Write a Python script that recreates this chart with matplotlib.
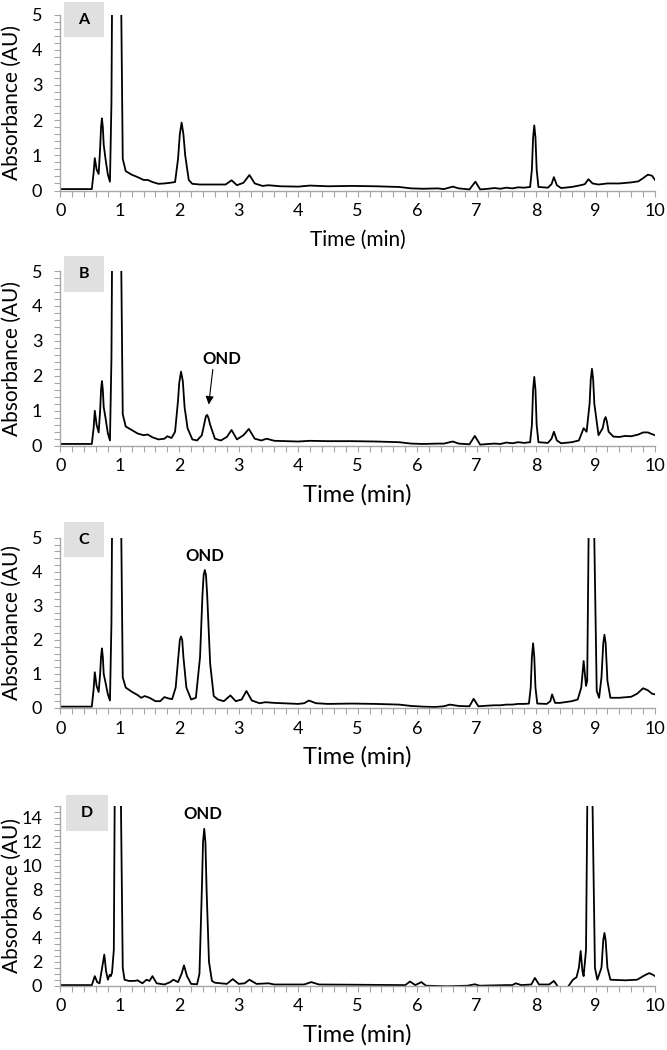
import matplotlib
matplotlib.use("Agg")
import matplotlib.pyplot as plt
from matplotlib.patches import Rectangle
from matplotlib.ticker import MultipleLocator

plt.rcParams['font.family'] = ['Lato', 'DejaVu Sans']

# chromatogram traces (time in min, absorbance in AU)
time_a = [0, 0.53, 0.56, 0.58, 0.61, 0.645, 0.67, 0.685, 0.70, 0.715, 0.73, 0.76, 0.80, 0.835, 0.86, 0.88,
          0.95, 1.02, 1.05, 1.10, 1.2, 1.3, 1.4, 1.47, 1.55, 1.65, 1.75, 1.85, 1.93, 1.98, 2.01, 2.04,
          2.07, 2.10, 2.16, 2.22, 2.35, 2.5, 2.65, 2.78, 2.88, 2.97, 3.08, 3.18, 3.27, 3.4, 3.5, 3.7,
          4.0, 4.2, 4.5, 4.9, 5.3, 5.7, 5.9, 6.1, 6.35, 6.45, 6.6, 6.7, 6.88, 6.98, 7.06, 7.2, 7.3,
          7.4, 7.5, 7.6, 7.7, 7.8, 7.9, 7.93, 7.95, 7.97, 7.99, 8.01, 8.04, 8.2, 8.26, 8.3, 8.35, 8.42,
          8.6, 8.75, 8.82, 8.88, 8.95, 9.05, 9.2, 9.4, 9.6, 9.72, 9.8, 9.88, 9.95, 10.0]
abs_a = [0.04, 0.04, 0.5, 0.92, 0.6, 0.47, 1.2, 1.8, 2.05, 1.8, 1.3, 0.9, 0.45, 0.25, 2.5, 8,
         25, 6, 0.9, 0.55, 0.45, 0.38, 0.3, 0.3, 0.24, 0.19, 0.2, 0.22, 0.24, 0.9, 1.6, 1.93,
         1.6, 1.0, 0.3, 0.19, 0.17, 0.17, 0.17, 0.17, 0.29, 0.15, 0.22, 0.44, 0.2, 0.13, 0.15, 0.12,
         0.11, 0.14, 0.12, 0.13, 0.12, 0.1, 0.06, 0.05, 0.06, 0.04, 0.11, 0.06, 0.03, 0.25, 0.03, 0.05, 0.07,
         0.05, 0.08, 0.06, 0.09, 0.08, 0.1, 0.6, 1.5, 1.85, 1.5, 0.6, 0.1, 0.08, 0.18, 0.38, 0.15, 0.07,
         0.1, 0.15, 0.18, 0.32, 0.2, 0.17, 0.2, 0.2, 0.23, 0.26, 0.35, 0.45, 0.42, 0.3]

time_b = [0, 0.53, 0.56, 0.58, 0.61, 0.645, 0.67, 0.685, 0.70, 0.715, 0.73, 0.76, 0.80, 0.835, 0.86, 0.88,
          0.95, 1.02, 1.05, 1.10, 1.2, 1.3, 1.4, 1.47, 1.55, 1.65, 1.75, 1.8, 1.87, 1.93, 1.98, 2.0,
          2.03, 2.06, 2.09, 2.14, 2.22, 2.3, 2.38, 2.43, 2.45, 2.47, 2.49, 2.52, 2.6, 2.7, 2.8, 2.88,
          2.97, 3.08, 3.17, 3.27, 3.38, 3.47, 3.6, 4.0, 4.2, 4.5, 4.9, 5.3, 5.7, 5.9, 6.1, 6.35,
          6.45, 6.6, 6.7, 6.88, 6.97, 7.06, 7.2, 7.3, 7.4, 7.5, 7.6, 7.7, 7.8, 7.9, 7.93, 7.95,
          7.97, 7.99, 8.01, 8.04, 8.2, 8.26, 8.3, 8.35, 8.42, 8.6, 8.72, 8.8, 8.85, 8.9, 8.92, 8.94,
          8.96, 8.98, 9.05, 9.12, 9.15, 9.17, 9.19, 9.22, 9.3, 9.4, 9.5, 9.6, 9.72, 9.8, 9.88, 9.95,
          10.0]
abs_b = [0.05, 0.05, 0.5, 1.0, 0.6, 0.38, 1.0, 1.6, 1.85, 1.6, 1.1, 0.8, 0.35, 0.15, 2.5, 8,
         25, 6, 0.9, 0.55, 0.45, 0.35, 0.3, 0.32, 0.24, 0.18, 0.2, 0.27, 0.22, 0.4, 1.3, 1.8,
         2.12, 1.85, 1.1, 0.5, 0.18, 0.15, 0.3, 0.7, 0.85, 0.88, 0.8, 0.6, 0.2, 0.15, 0.25, 0.45,
         0.18, 0.3, 0.48, 0.2, 0.15, 0.2, 0.14, 0.12, 0.14, 0.13, 0.13, 0.12, 0.1, 0.06, 0.05, 0.06,
         0.06, 0.12, 0.06, 0.04, 0.28, 0.03, 0.05, 0.06, 0.05, 0.09, 0.07, 0.1, 0.08, 0.1, 0.6, 1.6,
         1.97, 1.6, 0.6, 0.1, 0.08, 0.2, 0.4, 0.15, 0.07, 0.1, 0.15, 0.5, 0.4, 1.2, 1.9, 2.2,
         1.9, 1.2, 0.3, 0.5, 0.75, 0.82, 0.7, 0.4, 0.26, 0.25, 0.28, 0.27, 0.32, 0.38, 0.38, 0.33,
         0.3]

time_c = [0, 0.53, 0.56, 0.58, 0.61, 0.645, 0.67, 0.685, 0.70, 0.715, 0.73, 0.76, 0.80, 0.835, 0.86, 0.88,
          0.95, 1.02, 1.05, 1.10, 1.2, 1.3, 1.36, 1.42, 1.5, 1.6, 1.68, 1.75, 1.82, 1.88, 1.94, 1.99,
          2.01, 2.03, 2.05, 2.07, 2.12, 2.2, 2.28, 2.35, 2.39, 2.41, 2.43, 2.45, 2.47, 2.52, 2.58, 2.65,
          2.75, 2.86, 2.95, 3.05, 3.13, 3.22, 3.35, 3.45, 3.6, 4.0, 4.1, 4.18, 4.3, 4.5, 4.9, 5.3,
          5.7, 5.9, 6.1, 6.3, 6.45, 6.55, 6.7, 6.88, 6.95, 7.03, 7.2, 7.3, 7.4, 7.5, 7.6, 7.7,
          7.8, 7.88, 7.91, 7.93, 7.95, 7.97, 7.99, 8.02, 8.18, 8.24, 8.27, 8.32, 8.4, 8.6, 8.7, 8.76,
          8.8, 8.84, 8.86, 8.9, 8.93, 8.97, 9.02, 9.06, 9.1, 9.13, 9.15, 9.17, 9.2, 9.25, 9.4, 9.6,
          9.7, 9.8, 9.88, 9.95, 10.0]
abs_c = [0.04, 0.04, 0.55, 1.05, 0.65, 0.47, 1.0, 1.5, 1.75, 1.5, 1.0, 0.75, 0.4, 0.22, 2.5, 8,
         25, 6, 0.9, 0.6, 0.48, 0.38, 0.3, 0.35, 0.3, 0.2, 0.2, 0.32, 0.28, 0.26, 0.6, 1.6,
         2.0, 2.1, 2.0, 1.5, 0.6, 0.25, 0.3, 1.5, 3.3, 3.9, 4.05, 3.9, 3.3, 1.3, 0.35, 0.25,
         0.2, 0.37, 0.2, 0.25, 0.5, 0.22, 0.14, 0.17, 0.15, 0.12, 0.14, 0.22, 0.14, 0.12, 0.13, 0.12,
         0.1, 0.06, 0.04, 0.03, 0.05, 0.1, 0.06, 0.05, 0.27, 0.05, 0.07, 0.08, 0.08, 0.1, 0.1, 0.12,
         0.12, 0.13, 0.6, 1.5, 1.9, 1.5, 0.6, 0.13, 0.12, 0.2, 0.4, 0.15, 0.15, 0.2, 0.25, 0.6,
         1.38, 0.65, 0.8, 8, 25, 6, 0.5, 0.3, 0.9, 1.9, 2.15, 1.9, 0.8, 0.3, 0.3, 0.33,
         0.42, 0.58, 0.52, 0.42, 0.4]

time_d = [0, 0.53, 0.56, 0.58, 0.62, 0.66, 0.7, 0.74, 0.77, 0.8, 0.83, 0.85, 0.87, 0.9, 0.92, 0.97,
          1.02, 1.05, 1.08, 1.15, 1.25, 1.3, 1.38, 1.45, 1.5, 1.55, 1.62, 1.75, 1.85, 1.9, 1.98, 2.04,
          2.08, 2.13, 2.2, 2.3, 2.34, 2.38, 2.40, 2.42, 2.44, 2.46, 2.5, 2.55, 2.6, 2.7, 2.8, 2.9,
          3.0, 3.1, 3.18, 3.3, 3.5, 3.6, 4.0, 4.1, 4.22, 4.35, 5.0, 5.5, 5.8, 5.88, 5.97, 6.07,
          6.15, 6.5, 6.85, 6.97, 7.05, 7.5, 7.6, 7.66, 7.75, 7.92, 7.98, 8.05, 8.22, 8.3, 8.35, 8.4,
          8.5, 8.55, 8.62, 8.68, 8.72, 8.75, 8.78, 8.8, 8.84, 8.87, 8.91, 8.95, 8.99, 9.03, 9.1, 9.13,
          9.15, 9.17, 9.2, 9.25, 9.5, 9.7, 9.82, 9.9, 9.95, 10.0]
abs_d = [0.05, 0.05, 0.5, 0.8, 0.3, 0.2, 1.4, 2.6, 1.2, 0.5, 0.9, 0.8, 1.1, 3, 20, 40,
         15, 1.5, 0.5, 0.4, 0.4, 0.45, 0.2, 0.5, 0.4, 0.8, 0.2, 0.1, 0.3, 0.5, 0.3, 1.0,
         1.7, 0.8, 0.15, 0.12, 1.0, 8, 12, 13.1, 12, 8, 2.0, 0.4, 0.25, 0.2, 0.15, 0.55,
         0.15, 0.2, 0.5, 0.15, 0.2, 0.1, 0.1, 0.1, 0.3, 0.1, 0.08, 0.06, 0.05, 0.35, 0.05, 0.3,
         0.0, -0.05, 0.0, 0.12, 0.0, 0.05, 0.05, 0.2, 0.05, 0.1, 0.65, 0.1, 0.1, 0.4, 0.05, -0.5,
         -0.5, 0.0, 0.5, 0.7, 1.5, 2.9, 1.2, 0.8, 3, 20, 40, 15, 1.5, 0.5, 1.5, 3.8,
         4.4, 3.8, 1.5, 0.5, 0.45, 0.5, 0.85, 1.05, 0.95, 0.8]

panel_names = ['A', 'B', 'C', 'D']
times = [time_a, time_b, time_c, time_d]
absorb = [abs_a, abs_b, abs_c, abs_d]
y_max = [5, 5, 5, 15]
y_step = [1, 1, 1, 2]
y_minor = [0.2, 0.2, 0.2, 0.5]
ond_text = [None, (2.72, 2.48), (2.43, 4.46), (2.40, 14.3)]

W, H = 667, 1050
fig = plt.figure(figsize=(W / 100, H / 100), dpi=100)

# axes boxes in pixels: (top, bottom)
ax_px = [(14.5, 190.5), (271, 445.7), (537.7, 708), (806, 985.7)]
box_px = [(64, 2, 104, 37), (64, 256, 104, 292), (64, 522, 104, 557), (66, 795, 108, 831)]
xlab_size = [15, 17, 17, 17]
x0, x1 = 60.3, 655
grey = '#a6a6a6'

for i in range(4):
    top, bot = ax_px[i]
    ax = fig.add_axes([x0 / W, 1 - bot / H, (x1 - x0) / W, (bot - top) / H])
    ax.plot(times[i], absorb[i], color='black', lw=1.3)
    ax.set_xlim(0, 10)
    ax.set_ylim(0, y_max[i])
    ax.xaxis.set_major_locator(MultipleLocator(1))
    ax.xaxis.set_minor_locator(MultipleLocator(0.2))
    ax.yaxis.set_major_locator(MultipleLocator(y_step[i]))
    ax.yaxis.set_minor_locator(MultipleLocator(y_minor[i]))
    for s in ['top', 'right']:
        ax.spines[s].set_visible(False)
    for s in ['left', 'bottom']:
        ax.spines[s].set_color(grey)
        ax.spines[s].set_linewidth(1.0)
    ax.tick_params(axis='both', which='both', direction='out', color=grey, length=4, width=0.8,
                   labelsize=13)
    ax.tick_params(axis='x', which='both', pad=5)
    ax.tick_params(axis='y', which='both', pad=9)
    ax.set_xlabel('Time (min)', fontsize=xlab_size[i])
    ax.xaxis.label.set_va('center')
    ax.xaxis.set_label_coords(0.5, -49 / (bot - top))
    ax.set_ylabel('Absorbance (AU)', fontsize=15)
    ax.yaxis.label.set_va('center')
    ax.yaxis.set_label_coords((12 - x0) / (x1 - x0), 0.5)

    if ond_text[i] is not None:
        ax.text(ond_text[i][0], ond_text[i][1], 'OND', ha='center', va='center',
                fontsize=12, fontweight='bold')
    if i == 1:
        ax.annotate('', xy=(2.49, 1.1), xytext=(2.57, 2.26),
                    arrowprops=dict(arrowstyle='-|>', color='black', lw=0.8, mutation_scale=12))

    bx0, by0, bx1, by1 = box_px[i]
    fig.add_artist(Rectangle((bx0 / W, 1 - by1 / H), (bx1 - bx0) / W, (by1 - by0) / H,
                             transform=fig.transFigure, facecolor='#e0e0e0', edgecolor='none'))
    fig.text((bx0 + bx1) / 2 / W, 1 - (by0 + by1) / 2 / H, panel_names[i], ha='center', va='center',
             fontsize=11.5, fontweight='bold')

fig.savefig('out.png', dpi=100)
